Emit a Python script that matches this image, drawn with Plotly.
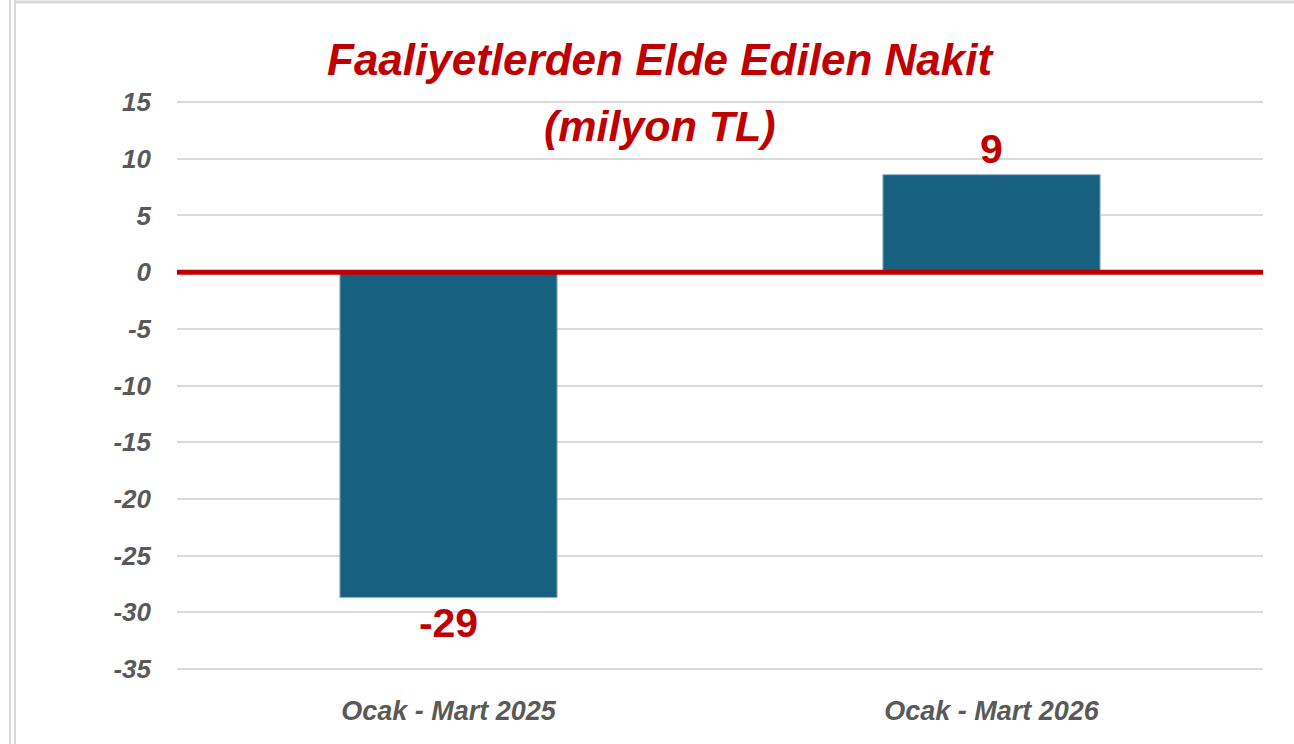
import plotly.graph_objects as go

categories = ["Ocak - Mart 2025", "Ocak - Mart 2026"]
values = [-28.7, 8.6]
tick_vals = [15, 10, 5, 0, -5, -10, -15, -20, -25, -30, -35]
title_line1 = "Faaliyetlerden Elde Edilen Nakit"
title_line2 = "(milyon TL)"

BAR = "#17607f"
RED = "#c00000"
GRAY = "#595959"
FONT = "Liberation Sans, Arial, sans-serif"

fig = go.Figure()
fig.add_trace(go.Bar(
    x=categories, y=values, width=0.4,
    marker=dict(color=BAR, line=dict(color="#8fb3c4", width=1)),
    texttemplate="%{y:.0f}", textposition="outside",
    textfont=dict(family=FONT, size=41, color=RED, weight="bold"),
    cliponaxis=False, hoverinfo="skip",
))

W, H = 1294, 744
L, R, T, B = 177, 31, 101, 74
pw, ph = W - L - R, H - T - B

def px(x):
    return (x - L) / pw

def py(y):
    return 1 - (y - T) / ph

fig.update_layout(
    width=W, height=H,
    margin=dict(l=L, r=R, t=T, b=B, pad=0),
    plot_bgcolor="white", paper_bgcolor="white",
    showlegend=False,
    xaxis=dict(
        showgrid=False, showline=False, ticks="",
        tickfont=dict(family=FONT, size=27, color=GRAY, style="italic", weight="bold"),
        ticklabelstandoff=22,
    ),
    yaxis=dict(
        range=[-35.1, 15.1], tickvals=tick_vals, ticktext=[str(v) for v in tick_vals],
        showgrid=True, gridcolor="#d9d9d9", gridwidth=2,
        zeroline=False, showline=False, ticks="",
        tickfont=dict(family=FONT, size=26, color=GRAY, style="italic", weight="bold"),
        ticklabelstandoff=25,
    ),
    annotations=[
        dict(text=title_line1, x=px(660), y=py(59), xref="paper", yref="paper",
             showarrow=False, xanchor="center", yanchor="middle",
             font=dict(family=FONT, size=44, color=RED, style="italic", weight="bold")),
        dict(text=title_line2, x=px(660), y=py(126), xref="paper", yref="paper",
             showarrow=False, xanchor="center", yanchor="middle",
             font=dict(family=FONT, size=43, color=RED, style="italic", weight="bold")),
    ],
    shapes=[
        dict(type="line", xref="paper", yref="y", x0=0, x1=1, y0=0, y1=0,
             line=dict(color=RED, width=5), layer="above"),
        dict(type="line", xref="paper", yref="paper", x0=px(10), x1=px(10), y0=py(0), y1=py(744),
             line=dict(color="#d9d9d9", width=2)),
        dict(type="line", xref="paper", yref="paper", x0=px(15), x1=px(15), y0=py(0), y1=py(744),
             line=dict(color="#d9d9d9", width=2)),
        dict(type="line", xref="paper", yref="paper", x0=px(15), x1=px(1294), y0=py(2), y1=py(2),
             line=dict(color="#d9d9d9", width=3)),
    ],
)

fig.write_html("out.html", config={"displayModeBar": False},
               post_script="document.body.style.margin='0';document.body.style.overflow='hidden';")
